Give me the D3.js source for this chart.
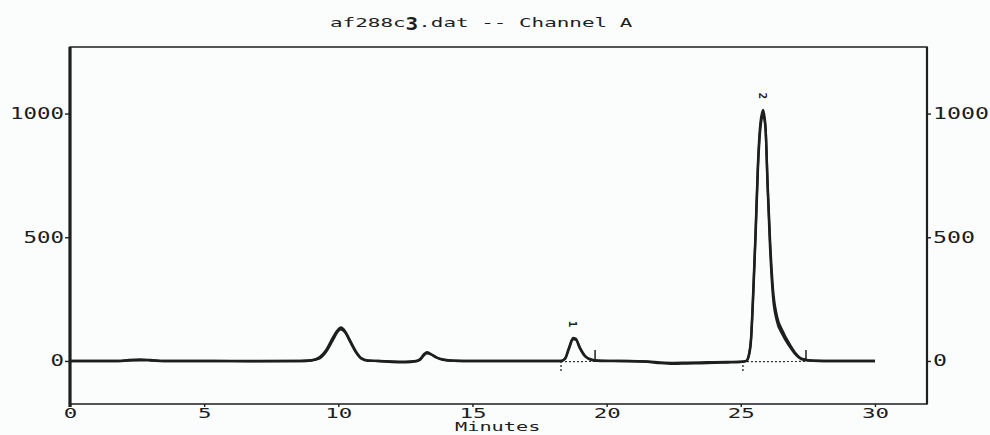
<!DOCTYPE html>
<html>
<head>
<meta charset="utf-8">
<script src="https://cdn.jsdelivr.net/npm/d3@7"></script>
<style>
  html, body { margin: 0; padding: 0; background: #fbfdfd; }
  svg { display: block; }
  text { font-family: "DejaVu Sans Mono", "Liberation Mono", monospace; fill: #1e1e1e; }
</style>
</head>
<body>
<svg id="chart" width="990" height="435"></svg>
<script>
// Retention time (minutes) of each sample along the trace
const times = [0, 1.8, 2.2, 2.6, 3.0, 3.5, 5, 7, 8.6, 9.0, 9.3, 9.55, 9.8, 10.0, 10.1, 10.25, 10.45, 10.65, 10.85, 11.1, 11.5, 12.0, 12.5, 12.9, 13.05, 13.2, 13.3, 13.45, 13.65, 13.9, 14.3, 15, 16.5, 18.3, 18.45, 18.6, 18.75, 18.85, 19.0, 19.2, 19.45, 19.8, 20.5, 21.5, 22, 22.5, 23, 23.5, 24, 24.5, 25.0, 25.2, 25.3, 25.38, 25.47, 25.55, 25.64, 25.73, 25.83, 25.92, 26.0, 26.09, 26.2, 26.35, 26.54, 26.83, 27.05, 27.3, 27.7, 28.5, 30];

// Detector response, two overlaid injections
const runA = [0, 0, 4, 6, 4, 0, 0, -1, 0, 3, 15, 45, 95, 128, 135, 120, 80, 40, 12, 2, 0, -2, -3, 0, 8, 28, 35, 28, 14, 5, 1, 0, 0, 0, 10, 55, 93, 90, 55, 20, 5, 1, 0, -2, -6, -8, -7, -6, -5, -4, -3, 0, 25, 90, 300, 520, 800, 960, 1015, 950, 700, 460, 260, 160, 110, 57, 25, 6, 1, 0, 0];
const runB = [0, 0, 2, 3, 2, 0, 0, 0, 0, 2, 10, 38, 85, 122, 128, 116, 76, 36, 10, 1, 0, -4, -5, -1, 5, 24, 31, 27, 15, 6, 1, 0, 0, 0, 8, 50, 88, 86, 52, 18, 4, 0, 0, -3, -9, -12, -10, -9, -7, -6, -4, -1, 20, 80, 280, 500, 780, 940, 995, 940, 720, 490, 290, 180, 125, 66, 30, 8, 1, 0, 0];

// Integrated peaks: number, apex, start and end events
const peakNames = ["1", "2"];
const peakTimes = [18.75, 25.83];
const peakValues = [93, 1015];
const peakStarts = [18.3, 25.08];
const peakEnds = [19.57, 27.43];

// Axis ticks
const xTicks = [0, 5, 10, 15, 20, 25, 30];
const yTicks = [0, 500, 1000];

const title = ["af288c", "3", ".dat -- Channel A"];
const xLabel = "Minutes";

const svg = d3.select("#chart");
const plotL = 70, plotR = 927, plotT = 47, plotB = 404;

const x = d3.scaleLinear().domain([0, 31.94]).range([plotL, plotR]);
const y = d3.scaleLinear().domain([-174, 1269]).range([plotB, plotT]);

const ink = "#1e1e1e";

// Wide, printer-like text: stretch each string to a fixed advance per character
function stretch(sel, w) {
  sel.attr("textLength", function () { return this.textContent.length * w; })
     .attr("lengthAdjust", "spacingAndGlyphs");
}

// Title
const tx0 = 330, tw = 12.6;
svg.append("text").attr("x", tx0).attr("y", 27).attr("font-size", 13)
  .text(title[0]).call(stretch, tw);
svg.append("text").attr("x", tx0 + 6 * tw).attr("y", 30).attr("font-size", 17)
  .attr("font-weight", "bold").text(title[1]).call(stretch, tw);
svg.append("text").attr("x", tx0 + 7 * tw).attr("y", 27).attr("font-size", 13)
  .text(title[2]).call(stretch, tw);

// Plot frame
svg.append("rect").attr("x", plotL).attr("y", plotT)
  .attr("width", plotR - plotL).attr("height", plotB - plotT)
  .attr("fill", "none").attr("stroke", ink).attr("stroke-width", 1.5);
svg.append("line").attr("x1", plotL).attr("x2", plotL).attr("y1", plotT).attr("y2", plotB + 3)
  .attr("stroke", ink).attr("stroke-width", 3.2);
svg.append("line").attr("x1", plotR).attr("x2", plotR).attr("y1", plotT).attr("y2", plotB)
  .attr("stroke", ink).attr("stroke-width", 2.2);

// Axes
const styleAxis = (g, w, fs) => {
  g.select(".domain").remove();
  g.selectAll(".tick line").attr("stroke", ink).attr("stroke-width", 1.4);
  g.selectAll(".tick text").attr("font-size", fs).attr("fill", ink).call(stretch, w);
};

svg.append("g").attr("transform", `translate(${plotL},0)`)
  .call(d3.axisLeft(y).tickValues(yTicks).tickSize(5).tickPadding(1).tickFormat(d3.format("d")))
  .call(g => styleAxis(g, 13.5, 15));

svg.append("g").attr("transform", `translate(${plotR},0)`)
  .call(d3.axisRight(y).tickValues(yTicks).tickSize(4).tickPadding(2).tickFormat(d3.format("d")))
  .call(g => styleAxis(g, 14, 15));

svg.append("g").attr("transform", `translate(0,${plotB})`)
  .call(d3.axisBottom(x).tickValues(xTicks).tickSize(3).tickPadding(1).tickFormat(d3.format("d")))
  .call(g => styleAxis(g, 13.5, 14));

svg.append("text").attr("x", 455).attr("y", 431).attr("font-size", 11.5)
  .text(xLabel).call(stretch, 12.2);

// Integration baselines and event marks
peakStarts.forEach((s, i) => {
  const e = peakEnds[i];
  svg.append("line").attr("x1", x(s)).attr("x2", x(e)).attr("y1", y(-3)).attr("y2", y(-2))
    .attr("stroke", "#333").attr("stroke-width", 1.2).attr("stroke-dasharray", "2,2");
  svg.append("line").attr("x1", x(s)).attr("x2", x(s)).attr("y1", y(0)).attr("y2", y(0) + 12)
    .attr("stroke", "#333").attr("stroke-width", 1.4).attr("stroke-dasharray", "2,2");
  svg.append("line").attr("x1", x(e)).attr("x2", x(e)).attr("y1", y(0)).attr("y2", y(0) - 11)
    .attr("stroke", ink).attr("stroke-width", 1.5);
});

// Traces
const line = d3.line().x((d, i) => x(times[i])).y(d => y(d)).curve(d3.curveMonotoneX);
[runB, runA].forEach(run => {
  svg.append("path").datum(run).attr("d", line)
    .attr("fill", "none").attr("stroke", ink).attr("stroke-width", 2.4)
    .attr("stroke-linejoin", "round");
});

// Peak numbers, printed sideways above each apex
peakNames.forEach((n, i) => {
  const px = x(peakTimes[i]), py = y(peakValues[i]) - 14;
  svg.append("text").attr("transform", `translate(${px},${py}) rotate(90)`)
    .attr("font-size", 11).attr("text-anchor", "middle").attr("dy", "0.35em")
    .attr("font-weight", "bold").text(n);
});
</script>
</body>
</html>
